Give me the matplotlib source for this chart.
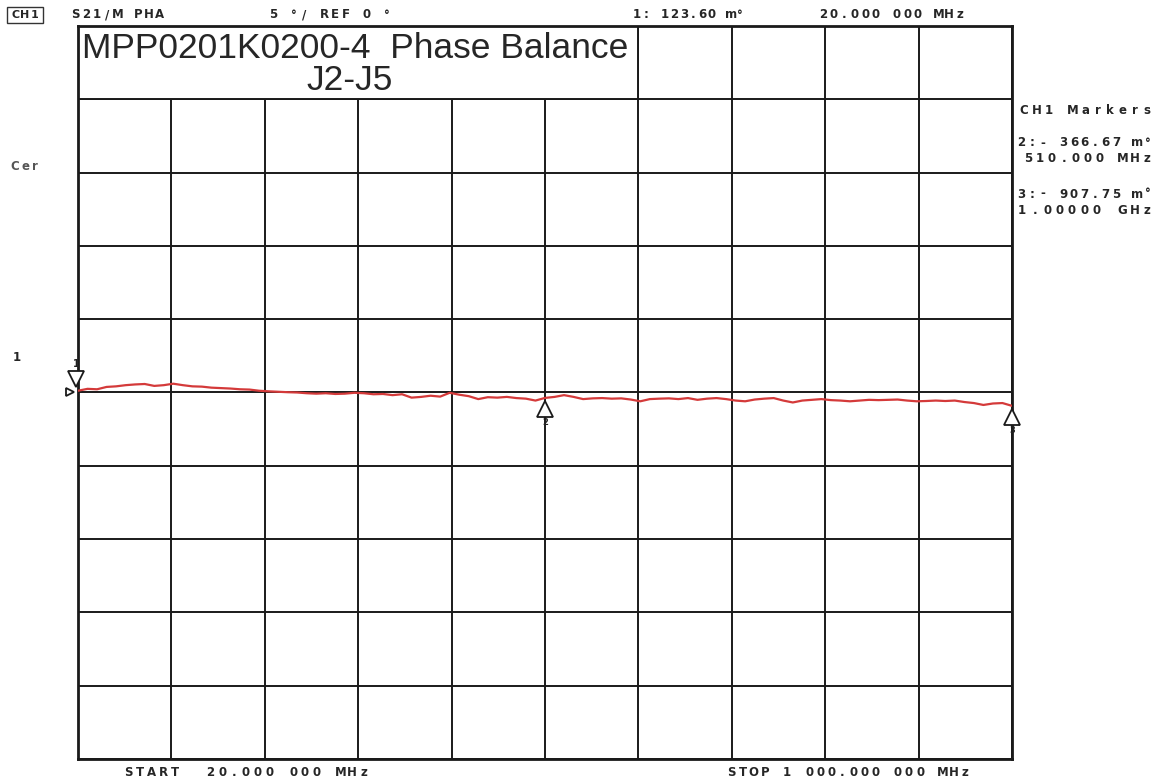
import numpy as np
import matplotlib
matplotlib.use("Agg")
import matplotlib.pyplot as plt
from matplotlib.patches import Rectangle
from matplotlib.transforms import offset_copy

W, H = 1155, 783

# sweep: 20 MHz .. 1000 MHz, 10 MHz steps
freq_mhz = list(range(20, 1001, 10))
phase_deg = [
    0.12, 0.25, 0.22, 0.38, 0.42, 0.50, 0.55, 0.58, 0.45, 0.50,
    0.60, 0.50, 0.42, 0.40, 0.33, 0.30, 0.27, 0.22, 0.20, 0.12,
    0.08, 0.05, 0.02, 0.00, -0.05, -0.08, -0.05, -0.10, -0.08, -0.02,
    -0.05, -0.12, -0.10, -0.18, -0.12, -0.35, -0.30, -0.22, -0.28, -0.02,
    -0.15, -0.25, -0.45, -0.32, -0.35, -0.30, -0.38, -0.42, -0.55, -0.37,
    -0.30, -0.18, -0.30, -0.45, -0.40, -0.38, -0.42, -0.40, -0.48, -0.60,
    -0.45, -0.42, -0.40, -0.45, -0.38, -0.50, -0.42, -0.38, -0.45, -0.55,
    -0.60, -0.48, -0.42, -0.38, -0.55, -0.68, -0.55, -0.50, -0.45, -0.52,
    -0.55, -0.60, -0.55, -0.50, -0.52, -0.50, -0.48, -0.55, -0.60, -0.58,
    -0.55, -0.58, -0.55, -0.65, -0.72, -0.85, -0.75, -0.72, -0.91,
]

marker_ids = [1, 2, 3]
marker_freq = [20, 510, 1000]
marker_mdeg = [123.60, -366.67, -907.75]

start_mhz, stop_mhz = 20, 1000
scale_deg = 5          # deg / div
ref_deg = 0
n_div = 10

fig = plt.figure(figsize=(W / 100, H / 100), dpi=100)
ax = fig.add_axes([78 / W, 1 - 759 / H, (1012 - 78) / W, (759 - 26) / H])

half = scale_deg * n_div / 2
ax.set_xlim(start_mhz, stop_mhz)
ax.set_ylim(ref_deg - half, ref_deg + half)
ax.set_xticks(np.linspace(start_mhz, stop_mhz, n_div + 1))
ax.set_yticks(np.linspace(ref_deg - half, ref_deg + half, n_div + 1))
ax.tick_params(length=0, labelbottom=False, labelleft=False)
ax.set_axisbelow(True)
ax.grid(True, color="#1a1a1a", lw=1.4)
for sp in ax.spines.values():
    sp.set_linewidth(2.0)
    sp.set_color("#1a1a1a")

# title box covering the top-left 6 divisions
div_x = (stop_mhz - start_mhz) / n_div
ax.add_patch(Rectangle((start_mhz, ref_deg + half - scale_deg), 6 * div_x, scale_deg,
                       facecolor="white", edgecolor="#1a1a1a", lw=1.4, zorder=1))
fig.text(82 / W, 1 - 48 / H, "MPP0201K0200-4  Phase Balance",
         family="Liberation Sans", fontsize=25.5, ha="left", va="center", color="#262626")
fig.text(350 / W, 1 - 80 / H, "J2-J5",
         family="Liberation Sans", fontsize=25.5, ha="center", va="center", color="#262626")

# trace
ax.plot(freq_mhz, phase_deg, color="#d43a3a", lw=1.6, zorder=3)

# markers
for mid, f, v in zip(marker_ids, marker_freq, marker_mdeg):
    val = v / 1000
    if mid == 1:
        tr = offset_copy(ax.transData, fig=fig, x=-2, y=12, units="dots")
        ax.plot(f, val, marker="v", ms=11, mfc="white", mec="#1a1a1a", mew=1.3,
                transform=tr, clip_on=False, zorder=4)
        tr2 = offset_copy(ax.transData, fig=fig, x=-2, y=27, units="dots")
        ax.text(f, val, str(mid), transform=tr2, ha="center", va="center",
                fontsize=7, fontweight="bold", color="#222")
    else:
        tr = offset_copy(ax.transData, fig=fig, y=-11, units="dots")
        ax.plot(f, val, marker="^", ms=11, mfc="white", mec="#1a1a1a", mew=1.3,
                transform=tr, clip_on=False, zorder=4)
        tr2 = offset_copy(ax.transData, fig=fig, y=-25, units="dots")
        ax.text(f, val, str(mid), transform=tr2, ha="center", va="center",
                fontsize=6, fontweight="bold", color="#222")

# reference position pointer at left edge
trr = offset_copy(ax.transData, fig=fig, x=-8, y=0, units="dots")
ax.plot(start_mhz, ref_deg, marker=">", ms=6, mfc="white", mec="#1a1a1a", mew=1.3,
        transform=trr, clip_on=False, zorder=4)


def spaced(s, x0, x1, y, color="#262626", size=8.5):
    """Analyzer-style text: characters spread evenly between x0 and x1 (pixels)."""
    pitch = (x1 - x0) / len(s)
    for i, ch in enumerate(s):
        if ch == " ":
            continue
        fig.text((x0 + (i + 0.5) * pitch) / W, 1 - y / H, ch,
                 ha="center", va="center", fontsize=size, fontweight="bold",
                 family="DejaVu Sans", color=color)


# header line
fig.patches.append(Rectangle((7 / W, 1 - 23 / H), 36 / W, 16 / H, transform=fig.transFigure,
                             facecolor="none", edgecolor="#333", lw=1.0))
spaced("CH1", 11, 39, 15, size=8)
spaced("S21/M PHA", 70, 165, 15)
spaced("5 °/ REF 0 °", 268, 392, 15)
spaced(f"1: {marker_mdeg[0]:.2f} m°", 632, 745, 15)
spaced(f"{marker_freq[0]:.3f} 000 MHz", 818, 965, 15)

# marker readout panel
spaced("CH1 Markers", 1018, 1153, 111)
spaced(f"2:- {abs(marker_mdeg[1]):.2f} m°", 1016, 1153, 143)
spaced(f"{marker_freq[1]:.3f} MHz", 1022, 1153, 158)
spaced(f"3:- {abs(marker_mdeg[2]):.2f} m°", 1016, 1153, 194)
spaced(f"{marker_freq[2] / 1000:.5f} GHz", 1016, 1153, 210)

spaced("Cer", 10, 40, 167, color="#555")
spaced("1", 12, 22, 357)

# footer
spaced(f"START  {start_mhz:.3f} 000 MHz", 122, 370, 773)
spaced(f"STOP 1 {stop_mhz % 1000:03d}.000 000 MHz", 726, 970, 773)

fig.savefig("out.png", dpi=100)
